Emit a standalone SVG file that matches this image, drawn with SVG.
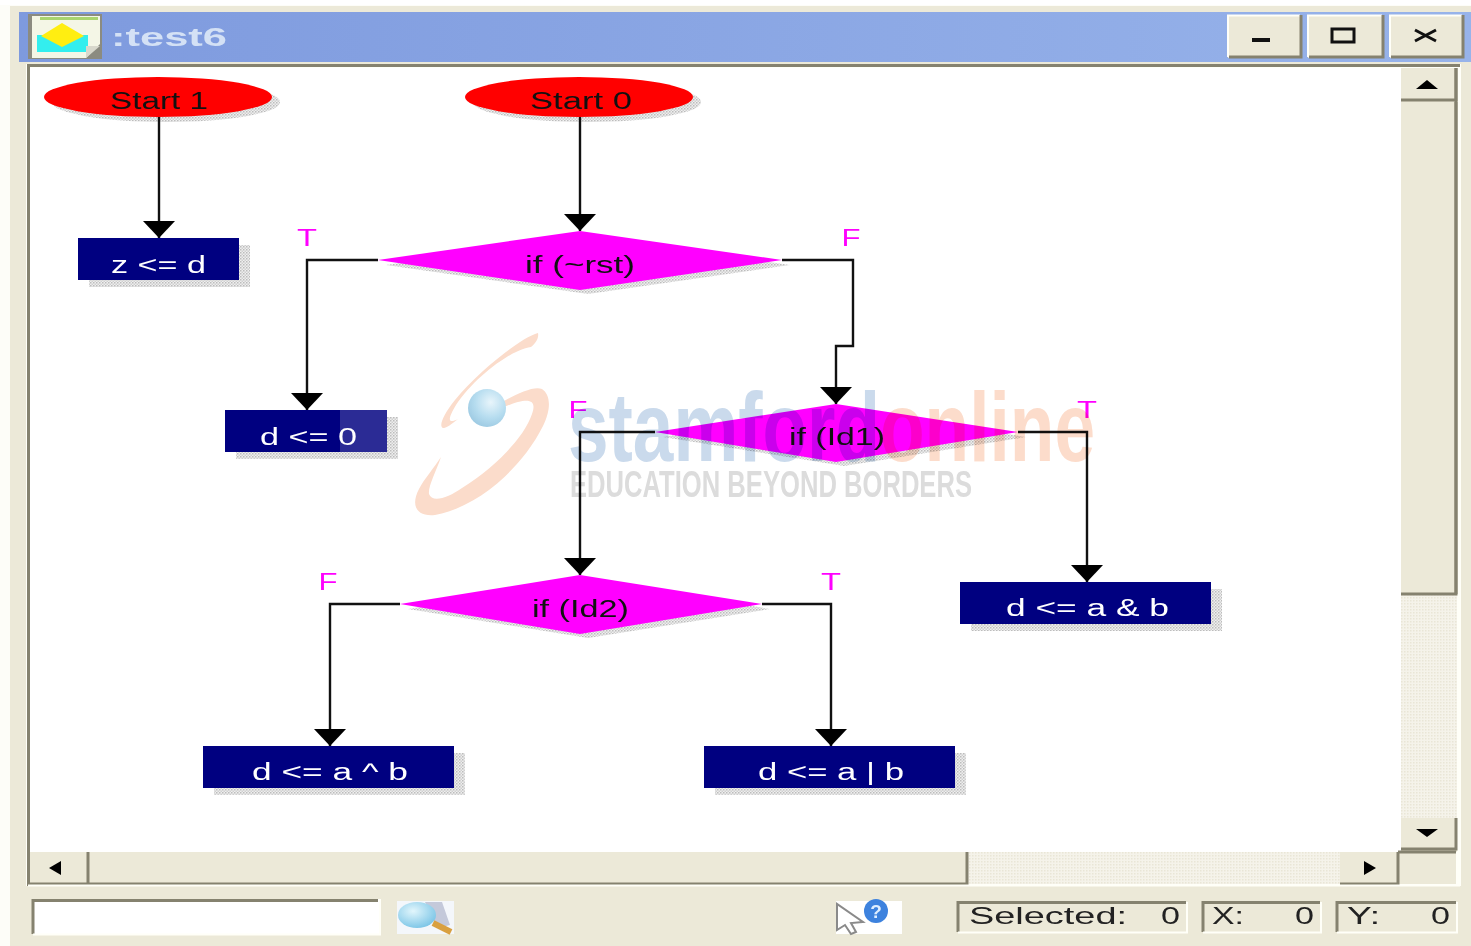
<svg xmlns="http://www.w3.org/2000/svg" width="1471" height="946" viewBox="0 0 1471 946">
<style>
text{font-family:"Liberation Sans",Arial,sans-serif}
.n{fill:#000080}
.e{fill:#ff0000}
.d{fill:#ff00ff}
.sh{fill:url(#dots)}
.bt{font-size:23px;fill:#fff;text-anchor:start}
.kt{font-size:23px;fill:#111;text-anchor:start}
.lb{font-size:24px;fill:#ff00ff;text-anchor:middle}
.st{font-size:24px;fill:#222;text-anchor:start}
.c{fill:none;stroke:#111;stroke-width:2.400}
.face{fill:#ece9d8}
.hi{fill:none;stroke:#fffff8;stroke-width:2}
.lo{fill:none;stroke:#85826f;stroke-width:3}
.tri{fill:#000}
.wm{mix-blend-mode:multiply}
.soft{filter:blur(0.6px)}
</style>
<defs>
<pattern id="dots" width="3" height="3" patternUnits="userSpaceOnUse"><rect width="3" height="3" fill="#efefef"/><rect width="1.500" height="1.500" fill="#bcbcbc"/><rect x="1.500" y="1.500" width="1.500" height="1.500" fill="#cfcfcf"/></pattern>
<pattern id="hatch" width="3" height="3" patternUnits="userSpaceOnUse"><rect width="3" height="3" fill="#f5f3ea"/><rect width="1.500" height="1.500" fill="#e9e6d6"/></pattern>
<linearGradient id="title" x1="0" x2="1" y1="0" y2="0"><stop offset="0" stop-color="#7e9ade"/><stop offset="1" stop-color="#97b3ea"/></linearGradient>
<radialGradient id="ball" cx="0.6" cy="0.35" r="0.7"><stop offset="0" stop-color="#e8f5fb"/><stop offset="0.6" stop-color="#b5dcef"/><stop offset="1" stop-color="#9cc9e2"/></radialGradient>
<radialGradient id="lens" cx="0.4" cy="0.35" r="0.7"><stop offset="0" stop-color="#e2f6fc"/><stop offset="1" stop-color="#79c4e6"/></radialGradient>
<marker id="ah" markerUnits="userSpaceOnUse" markerWidth="32" markerHeight="18" refX="16" refY="17" orient="0"><path d="M0 0H32L16 17Z" fill="#000"/></marker>
</defs>
<g class="soft">
<g id="window">
<rect width="1471" height="946" fill="#fff"/>
<rect x="0" y="5" width="1471" height="941" fill="#fdfdf8"/>
<rect x="10" y="6" width="1461" height="940" class="face"/>
<rect x="19" y="12" width="1452" height="50" fill="url(#title)"/>
<rect x="26" y="64" width="1435" height="822" fill="#fffff8"/>
<rect x="30" y="68" width="1371" height="784" fill="#fff"/>
<path d="M28.500 886V65.500H1460" fill="none" stroke="#85826f" stroke-width="3"/>
</g>

<g id="titlebar">
<rect x="28" y="14" width="74" height="45" fill="#8b8b80"/>
<path d="M32 16H100V44L86 58H32Z" fill="#f4f6e6"/>
<rect x="40" y="17" width="58" height="3" fill="#a9d46e"/>
<rect x="37" y="35" width="51" height="17" fill="#33eeee"/>
<path d="M62 23L84 36L62 47L41 36Z" fill="#ffee11"/>
<path d="M86 58V46H100Z" fill="#d8d8cc"/>
<text x="111" y="46" textLength="116" lengthAdjust="spacingAndGlyphs" style="font-size:26px;font-weight:bold;fill:#d4e1f5">:test6</text>
<g id="btn-min"><rect x="1228" y="15" width="73" height="43" class="face"/><path d="M1228 57V15.500H1300" class="hi"/><path d="M1229 57H1301V15" class="lo"/><rect x="1252" y="38" width="18" height="4" fill="#111"/></g>
<g id="btn-max"><rect x="1308" y="15" width="75" height="43" class="face"/><path d="M1308 57V15.500H1382" class="hi"/><path d="M1309 57H1383V15" class="lo"/><rect x="1332" y="29" width="22" height="13" fill="none" stroke="#111" stroke-width="3"/></g>
<g id="btn-close"><rect x="1390" y="15" width="73" height="43" class="face"/><path d="M1390 57V15.500H1462" class="hi"/><path d="M1391 57H1463V15" class="lo"/><path d="M1415 30L1436 41M1436 30L1415 41" fill="none" stroke="#111" stroke-width="3"/></g>
</g>

<g id="scrollbars">
<rect x="1401" y="68" width="56" height="784" class="face"/>
<rect x="1401" y="594" width="56" height="224" fill="url(#hatch)"/>
<g id="sb-up"><path d="M1401 100H1456V68" class="lo"/><path d="M1416 89L1427 80L1438 89Z" class="tri"/></g>
<g id="sb-vthumb"><path d="M1401 594H1456V102" class="lo"/></g>
<g id="sb-down"><path d="M1401 849H1456V818" class="lo"/><path d="M1416 829H1438L1427 837Z" class="tri"/></g>
<rect x="30" y="852" width="1426" height="32" class="face"/>
<rect x="967" y="852" width="373" height="32" fill="url(#hatch)"/>
<g id="sb-left"><path d="M88 852V884M30 884H88" class="lo"/><path d="M61 861V875L49 868Z" class="tri"/></g>
<g id="sb-hthumb"><path d="M967 852V884H88" class="lo"/></g>
<g id="sb-right"><path d="M1340 884H1398V852" class="lo"/><path d="M1364 861V875L1376 868Z" class="tri"/></g>
<path d="M1456 68V594M1398 852H1456" class="lo"/>
<path d="M28 885.500H1460" stroke="#fffff8" stroke-width="2" fill="none"/>
</g>

<g id="start1"><ellipse class="sh" cx="166" cy="102" rx="114" ry="20"/><ellipse class="e" cx="158" cy="97" rx="114" ry="20"/><text class="kt" x="110" y="109" textLength="98" lengthAdjust="spacingAndGlyphs">Start 1</text></g>
<g id="start0"><ellipse class="sh" cx="587" cy="102" rx="114" ry="20"/><ellipse class="e" cx="579" cy="97" rx="114" ry="20"/><text class="kt" x="530" y="109" textLength="102" lengthAdjust="spacingAndGlyphs">Start 0</text></g>
<g id="n-zd"><rect class="sh" x="89" y="245" width="161" height="42"/><rect class="n" x="78" y="238" width="161" height="42"/><text class="bt" x="111" y="273" textLength="95" lengthAdjust="spacingAndGlyphs">z &lt;= d</text></g>
<g id="if-rst"><path class="sh" d="M386 265L588 236L790 265L588 294Z"/><path class="d" d="M378 260L580 231L782 260L580 290Z"/><text class="kt" x="525" y="273" textLength="110" lengthAdjust="spacingAndGlyphs">if (~rst)</text><text class="lb" x="307" y="246" textLength="20" lengthAdjust="spacingAndGlyphs">T</text><text class="lb" x="851" y="246" textLength="19" lengthAdjust="spacingAndGlyphs">F</text></g>
<g id="n-d0"><rect class="sh" x="236" y="417" width="162" height="42"/><rect class="n" x="225" y="410" width="162" height="42"/><rect x="340" y="410" width="47" height="42" fill="#2b2b95"/><text class="bt" x="260" y="445" textLength="97" lengthAdjust="spacingAndGlyphs">d &lt;= 0</text></g>
<g id="if-id1"><path class="sh" d="M663 437L844 409L1026 437L844 466Z"/><path class="d" d="M655 432L836 404L1018 432L836 462Z"/><text class="kt" x="789" y="445" textLength="96" lengthAdjust="spacingAndGlyphs">if (Id1)</text><text class="lb" x="578" y="418" textLength="19" lengthAdjust="spacingAndGlyphs">F</text><text class="lb" x="1087" y="418" textLength="20" lengthAdjust="spacingAndGlyphs">T</text></g>
<g id="n-dand"><rect class="sh" x="971" y="589" width="251" height="42"/><rect class="n" x="960" y="582" width="251" height="42"/><text class="bt" x="1006" y="616" textLength="163" lengthAdjust="spacingAndGlyphs">d &lt;= a &amp; b</text></g>
<g id="if-id2"><path class="sh" d="M408 609L588 580L770 609L588 638Z"/><path class="d" d="M400 604L580 575L762 604L580 634Z"/><text class="kt" x="532" y="617" textLength="97" lengthAdjust="spacingAndGlyphs">if (Id2)</text><text class="lb" x="328" y="590" textLength="19" lengthAdjust="spacingAndGlyphs">F</text><text class="lb" x="831" y="590" textLength="20" lengthAdjust="spacingAndGlyphs">T</text></g>
<g id="n-dxor"><rect class="sh" x="214" y="753" width="251" height="42"/><rect class="n" x="203" y="746" width="251" height="42"/><text class="bt" x="252" y="780" textLength="156" lengthAdjust="spacingAndGlyphs">d &lt;= a ^ b</text></g>
<g id="n-dor"><rect class="sh" x="715" y="753" width="251" height="42"/><rect class="n" x="704" y="746" width="251" height="42"/><text class="bt" x="758" y="780" textLength="146" lengthAdjust="spacingAndGlyphs">d &lt;= a | b</text></g>

<g id="connectors">
<path class="c" d="M159 117V238" marker-end="url(#ah)"/>
<path class="c" d="M580 117V231" marker-end="url(#ah)"/>
<path class="c" d="M378 260H307V410" marker-end="url(#ah)"/>
<path class="c" d="M782 260H853V346H836V404" marker-end="url(#ah)"/>
<path class="c" d="M655 432H580V575" marker-end="url(#ah)"/>
<path class="c" d="M1018 432H1087V582" marker-end="url(#ah)"/>
<path class="c" d="M400 604H330V746" marker-end="url(#ah)"/>
<path class="c" d="M762 604H831V746" marker-end="url(#ah)"/>
</g>

<g id="watermark">
<g class="wm">
<path d="M538 333C520 338 478 372 455 400C442 416 438 428 444 428C446 428 452 424 458 419C448 424 447 420 456 405C474 378 510 350 531 347C536 343 539 338 538 333Z" fill="#fbdccb"/>
<path d="M504 401C520 392 535 386 542 389C550 394 552 408 543 426C522 468 478 507 435 515C415 517 411 504 419 489C424 479 434 468 441 457C436 472 428 486 429 494C432 503 448 498 462 488C494 468 524 438 532 414C537 400 530 396 504 407Z" fill="#fbdccb"/>
<text x="568" y="461" textLength="312" lengthAdjust="spacingAndGlyphs" style="font-size:98px;font-weight:bold;fill:#cadaec">stamford</text>
<text x="880" y="461" textLength="215" lengthAdjust="spacingAndGlyphs" style="font-size:98px;font-weight:bold;fill:#fcdccb">online</text>
<text x="570" y="497" textLength="402" lengthAdjust="spacingAndGlyphs" style="font-size:37px;font-weight:bold;fill:#dcdcdc">EDUCATION BEYOND BORDERS</text>
</g>
<ellipse cx="487" cy="408" rx="19" ry="19" fill="url(#ball)"/>
</g>

<g id="statusbar">
<rect x="32" y="899" width="347" height="35" fill="#fff"/>
<path d="M33 934V900.500H378" class="lo"/>
<path d="M33 934.500H380V899" class="hi"/>
<g id="search-icon"><rect x="397" y="901" width="57" height="33" fill="#f4f7fb"/><path d="M425 902H442L450 925L438 928Z" fill="#c4c9da"/><ellipse cx="417" cy="915" rx="19" ry="13" fill="url(#lens)"/><path d="M433 923L451 932" stroke="#d9a040" stroke-width="6" fill="none"/></g>
<g id="help-icon"><rect x="836" y="901" width="66" height="33" fill="#fff"/><path d="M837 904V930L845 925L851 934L856 932L851 923L863 922Z" fill="#fff" stroke="#8a8a8a" stroke-width="2"/><circle cx="876" cy="911" r="12" fill="#3d82de"/><text x="876" y="918" text-anchor="middle" style="font-size:19px;font-weight:bold;fill:#dfeeff">?</text></g>
<g id="sel"><path d="M958 932V902.500H1186" class="lo"/><path d="M958 932.500H1187V902" class="hi"/><text class="st" x="969" y="924" textLength="158" lengthAdjust="spacingAndGlyphs">Selected:</text><text class="st" x="1161" y="924" textLength="19" lengthAdjust="spacingAndGlyphs">0</text></g>
<g id="xv"><path d="M1203 932V902.500H1320" class="lo"/><path d="M1203 932.500H1321V902" class="hi"/><text class="st" x="1212" y="924" textLength="32" lengthAdjust="spacingAndGlyphs">X:</text><text class="st" x="1295" y="924" textLength="19" lengthAdjust="spacingAndGlyphs">0</text></g>
<g id="yv"><path d="M1337 932V902.500H1456" class="lo"/><path d="M1337 932.500H1457V902" class="hi"/><text class="st" x="1347" y="924" textLength="33" lengthAdjust="spacingAndGlyphs">Y:</text><text class="st" x="1431" y="924" textLength="19" lengthAdjust="spacingAndGlyphs">0</text></g>
</g>
</g>
</svg>
